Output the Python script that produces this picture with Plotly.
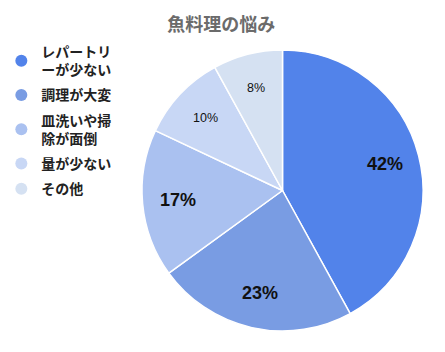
import math
import plotly.graph_objects as go

title = "魚料理の悩み"
categories = ["レパートリ<br>ーが少ない", "調理が大変", "皿洗いや掃<br>除が面倒", "量が少ない", "その他"]
values = [42, 23, 17, 10, 8]
colors = ["#5283EA", "#799CE3", "#AAC1F0", "#C8D7F5", "#D5E1F2"]

W, H = 445, 352
cx, cy, r = 282.5, 190.5, 140.5

fig = go.Figure()
fig.add_trace(go.Pie(
    labels=categories, values=values, sort=False, direction="clockwise", rotation=0,
    marker=dict(colors=colors, line=dict(color="white", width=1.5)),
    textinfo="none", showlegend=False, hoverinfo="label+percent",
    domain=dict(x=[(cx - r) / W, (cx + r) / W], y=[1 - (cy + r) / H, 1 - (cy - r) / H]),
))
for i, (c, col) in enumerate(zip(categories, colors)):
    fig.add_trace(go.Scatter(x=[None], y=[None], mode="markers", name="<b>" + c + "</b>",
                             legendgroup=f"g{i}",
                             marker=dict(symbol="circle", size=13, color=col)))

# percentage labels placed along each slice's mid-angle
total = sum(values)
cum = 0
annotations = []
for v in values:
    mid = (cum + v / 2) / total * 2 * math.pi
    cum += v
    f = 0.75
    px = cx + f * r * math.sin(mid)
    py = cy - f * r * math.cos(mid)
    big = v >= 15
    annotations.append(dict(
        x=px / W, y=1 - py / H, xref="paper", yref="paper", showarrow=False,
        text=(f"<b>{v}%</b>" if big else f"{v}%"),
        font=dict(size=18 if big else 12.5, color="#111111", family="Liberation Sans, Arial, sans-serif"),
        xanchor="center", yanchor="middle",
    ))

fig.update_layout(
    width=W, height=H, margin=dict(l=0, r=0, t=0, b=0),
    paper_bgcolor="white", plot_bgcolor="white",
    title=dict(text="<b>" + title + "</b>", x=0.497, xanchor="center", y=1 - 25 / H, yanchor="middle",
               font=dict(size=18, color="#6b6b6b", family="Noto Sans CJK JP")),
    xaxis=dict(visible=False), yaxis=dict(visible=False),
    legend=dict(x=0.003, y=1 - 36 / H, xanchor="left", yanchor="top",
                font=dict(size=14, color="#222222", family="Noto Sans CJK JP"),
                itemsizing="constant", tracegroupgap=4, bgcolor="rgba(0,0,0,0)"),
    showlegend=True,
    annotations=annotations,
)
fig.update_layout(legend_itemwidth=30)
fig.write_html("out.html")
